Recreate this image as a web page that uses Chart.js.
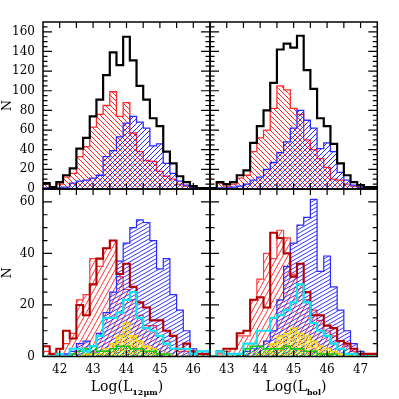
<!DOCTYPE html>
<html lang="en">
<head>
<meta charset="UTF-8">
<title>Luminosity histograms</title>
<script src="https://cdn.jsdelivr.net/npm/chart.js"></script>
<style>
  body { margin: 0; padding: 0; background: #fff; width: 399px; height: 399px; overflow: hidden; position: relative; font-family: "DejaVu Serif", serif; }
  canvas { position: absolute; left: 0; top: 0; }
  .xtitle { position: absolute; top: 378px; font-size: 14px; transform: translateX(-50%); white-space: nowrap; color: #000; }
  .xtitle sub { font-size: 8px; font-weight: bold; }
</style>
</head>
<body>
<canvas id="tl" width="399" height="399"></canvas>
<canvas id="tr" width="399" height="399"></canvas>
<canvas id="bl" width="399" height="399"></canvas>
<canvas id="br" width="399" height="399"></canvas>
<div class="xtitle" style="left:127px">Log(L<sub>12μm</sub>)</div>
<div class="xtitle" style="left:296px">Log(L<sub>bol</sub>)</div>
<script>
// bin edges (0.2 dex bins)
const edgesL = [41.5,41.7,41.9,42.1,42.3,42.5,42.7,42.9,43.1,43.3,43.5,43.7,43.9,44.1,44.3,44.5,44.7,44.9,45.1,45.3,45.5,45.7,45.9,46.1,46.3,46.5];
const edgesR = [42.5,42.7,42.9,43.1,43.3,43.5,43.7,43.9,44.1,44.3,44.5,44.7,44.9,45.1,45.3,45.5,45.7,45.9,46.1,46.3,46.5,46.7,46.9,47.1,47.3,47.5];

// top row: L12um (left) and Lbol (right)
const blackTL = [6,6,2,7,14,21,41,52,74,91,116,139,126,155,131,105,91,72,64,38,26,13,7,3,1];
const redTL   = [5,5,1,5,12,16,33,43,63,76,85,99,74,88,57,38,29,28,18,13,10,5,3,1,1];
const blueTL  = [1,1,1,1,2,6,8,9,11,14,33,39,53,67,74,68,62,44,46,26,16,8,4,2,0];

const blackTR = [3,1,7,5,7,14,19,47,64,80,108,142,148,144,156,121,102,72,64,46,26,14,7,4,2];
const redTR   = [2,0,6,3,5,11,14,38,52,60,82,105,101,82,76,50,40,31,22,10,9,5,3,2,1];
const blueTR  = [1,0,1,1,2,3,5,9,12,20,27,37,48,62,80,70,62,41,47,38,17,9,4,2,1];

// bottom row
const lredBL   = [3,2,1,3,5,9,22,24,38,35,42,45,31,26,22,16,12,12,8,6,3,2,2,1,1];
const dredBL   = [3,4,1,3,10,7,20,16,28,38,42,45,32,36,27,21,19,14,14,10,8,3,5,2,1];
const blueBL   = [0,0,0,0,1,2,5,6,4,9,17,25,37,44,50,53,52,45,34,38,24,18,10,3,2];
const cyanBL   = [2,0,0,1,0,3,3,2,4,8,15,15,17,22,25,15,11,10,8,5,3,3,3,1,2];
const greenBL  = [0,0,0,0,0,1,2,3,4,2,2,3,4,4,3,3,2,2,1,1,0,0,0,0,0];
const yellowBL = [0,0,0,0,0,0,0,1,1,1,3,5,8,13,8,6,4,3,1,1,0,0,0,0,0];

const lredBR   = [1,0,1,2,3,8,8,22,30,40,38,49,46,32,28,22,18,14,10,8,6,4,2,1,1];
const dredBR   = [1,0,2,3,3,9,10,22,23,19,48,46,40,31,36,25,16,16,12,11,6,5,3,1,1];
const blueBR   = [0,0,0,0,0,1,2,3,4,6,10,22,35,44,51,54,61,33,39,27,18,10,5,2,0];
const cyanBR   = [3,0,2,1,1,1,5,5,10,10,15,16,18,21,28,21,13,10,8,5,3,1,1,0,0];
const greenBR  = [0,0,0,0,0,1,3,4,4,3,3,3,4,3,3,2,2,1,1,1,0,0,0,0,0];
const yellowBR = [0,0,0,0,0,0,0,0,1,2,5,8,9,11,9,8,6,4,3,2,1,1,0,0,0];

// tick labels
const xLabelsL = [42,43,44,45,46];
const xLabelsR = [43,44,45,46,47];
const yLabelsTop = [0,20,40,60,80,100,120,140,160];
const yLabelsBot = [0,20,40,60];

Chart.defaults.font.family = "'DejaVu Serif', serif";
Chart.defaults.font.size = 12;
Chart.defaults.color = '#000';
Chart.defaults.animation = false;

// diagonal hatch pattern; dir 1 = "/", -1 = "\"
function hatch(color, w, h, dir, lw, both) {
  const c = document.createElement('canvas');
  c.width = w; c.height = h;
  const g = c.getContext('2d');
  g.strokeStyle = color;
  g.lineWidth = lw;
  const dirs = both ? [1, -1] : [dir];
  for (const d of dirs) {
    for (const off of [-w, 0, w]) {
      g.beginPath();
      if (d > 0) { g.moveTo(off - w, 2 * h); g.lineTo(off + 2 * w, -h); }
      else { g.moveTo(off - w, -h); g.lineTo(off + 2 * w, 2 * h); }
      g.stroke();
    }
  }
  return g.createPattern(c, 'repeat');
}

function steps(edges, vals) {
  const pts = vals.map((v, i) => ({x: edges[i], y: v}));
  pts.push({x: edges[vals.length], y: vals[vals.length - 1]});
  return pts;
}

function hist(edges, vals, color, width, fillPattern) {
  return {
    data: steps(edges, vals),
    borderColor: color,
    borderWidth: width,
    backgroundColor: fillPattern || 'transparent',
    fill: fillPattern ? 'origin' : false,
    stepped: 'after',
    pointRadius: 0,
    tension: 0
  };
}

// inward ticks on all four sides plus the box
const frameTicks = {
  id: 'frameTicks',
  afterDatasetsDraw(chart, args, opts) {
    const {ctx, chartArea: a, scales: {x, y}} = chart;
    ctx.save();
    ctx.strokeStyle = '#000';
    ctx.lineWidth = 1.2;
    ctx.beginPath();
    for (let v = opts.xFrom; v <= opts.xTo + 1e-9; v += 0.5) {
      const px = x.getPixelForValue(v);
      ctx.moveTo(px, a.bottom); ctx.lineTo(px, a.bottom - 6);
      ctx.moveTo(px, a.top); ctx.lineTo(px, a.top + 6);
    }
    for (let v = opts.yMinor; v < y.max; v += opts.yMinor) {
      const py = y.getPixelForValue(v);
      const len = Math.abs(v % opts.yMajor) < 1e-9 ? 9 : 4.5;
      ctx.moveTo(a.left, py); ctx.lineTo(a.left + len, py);
      ctx.moveTo(a.right, py); ctx.lineTo(a.right - len, py);
    }
    ctx.stroke();
    ctx.lineWidth = 1.5;
    ctx.strokeRect(a.left, a.top, a.right - a.left, a.bottom - a.top);
    ctx.restore();
  }
};

function makeChart(id, datasets, cfg) {
  return new Chart(document.getElementById(id), {
    type: 'line',
    data: {datasets: datasets},
    plugins: [frameTicks],
    options: {
      responsive: false,
      layout: {padding: cfg.padding},
      plugins: {
        legend: {display: false},
        tooltip: {enabled: false},
        frameTicks: cfg.ticks
      },
      scales: {
        x: {
          type: 'linear',
          min: cfg.xMin, max: cfg.xMax,
          display: cfg.xLabels ? true : false,
          grid: {display: false, drawTicks: false},
          border: {display: false},
          ticks: {padding: 6, maxRotation: 0, font: {size: 12}},
          afterBuildTicks: s => { if (cfg.xLabels) s.ticks = cfg.xLabels.map(v => ({value: v})); },
          afterFit: s => { s.height = cfg.xLabels ? 20 : 0; }
        },
        y: {
          type: 'linear',
          min: 0, max: cfg.yMax,
          display: cfg.yLabels ? true : false,
          grid: {display: false, drawTicks: false},
          border: {display: false},
          ticks: {padding: 8, font: {size: 12}},
          title: {display: true, text: 'N', font: {size: 13}, padding: 0},
          afterBuildTicks: s => { if (cfg.yLabels) s.ticks = cfg.yLabels.map(v => ({value: v})); },
          afterFit: s => { s.width = cfg.yLabels ? 43 : 0; }
        }
      }
    }
  });
}

const redTop  = hatch('rgba(255,20,20,0.9)', 5, 5, -1, 1);
const blueTop = hatch('rgba(20,20,255,0.9)', 5, 5, 1, 1);
const redBot  = hatch('rgba(255,20,20,0.85)', 5, 9, 1, 1);
const blueBot = hatch('rgba(30,30,255,0.9)', 7, 4, 1, 1);
const yellowP = hatch('rgba(250,225,0,0.95)', 4, 4, 1, 1, true);
const greenP  = hatch('rgba(0,200,0,0.8)', 4, 4, 1, 1);

makeChart('tl', [
  hist(edgesL, blackTL, '#000', 2.2),
  hist(edgesL, blueTL, '#2a2aff', 1.3, blueTop),
  hist(edgesL, redTL, '#ff2a2a', 1.3, redTop)
], {padding: {left: 0, top: 22, right: 189, bottom: 210}, xMin: 41.5, xMax: 46.5, yMax: 170,
    yLabels: yLabelsTop, ticks: {xFrom: 42, xTo: 46, yMinor: 5, yMajor: 20}});

makeChart('tr', [
  hist(edgesR, blackTR, '#000', 2.2),
  hist(edgesR, blueTR, '#2a2aff', 1.3, blueTop),
  hist(edgesR, redTR, '#ff2a2a', 1.3, redTop)
], {padding: {left: 210, top: 22, right: 21.7, bottom: 210}, xMin: 42.5, xMax: 47.5, yMax: 170,
    ticks: {xFrom: 43, xTo: 47, yMinor: 5, yMajor: 20}});

makeChart('bl', [
  hist(edgesL, cyanBL, '#12e2f2', 2.2),
  hist(edgesL, dredBL, '#b40000', 2.1),
  hist(edgesL, greenBL, '#10c810', 1.5, greenP),
  hist(edgesL, yellowBL, '#f5dc00', 1.2, yellowP),
  hist(edgesL, blueBL, '#2a2aff', 1.2, blueBot),
  hist(edgesL, lredBL, '#ff3a3a', 1.2, redBot)
], {padding: {left: 0, top: 189, right: 189, bottom: 22.5}, xMin: 41.5, xMax: 46.5, yMax: 65,
    xLabels: xLabelsL, yLabels: yLabelsBot, ticks: {xFrom: 42, xTo: 46, yMinor: 5, yMajor: 20}});

makeChart('br', [
  hist(edgesR, cyanBR, '#12e2f2', 2.2),
  hist(edgesR, dredBR, '#b40000', 2.1),
  hist(edgesR, greenBR, '#10c810', 1.5, greenP),
  hist(edgesR, yellowBR, '#f5dc00', 1.2, yellowP),
  hist(edgesR, blueBR, '#2a2aff', 1.2, blueBot),
  hist(edgesR, lredBR, '#ff3a3a', 1.2, redBot)
], {padding: {left: 210, top: 189, right: 21.7, bottom: 22.5}, xMin: 42.5, xMax: 47.5, yMax: 65,
    xLabels: xLabelsR, ticks: {xFrom: 43, xTo: 47, yMinor: 5, yMajor: 20}});
</script>
</body>
</html>
